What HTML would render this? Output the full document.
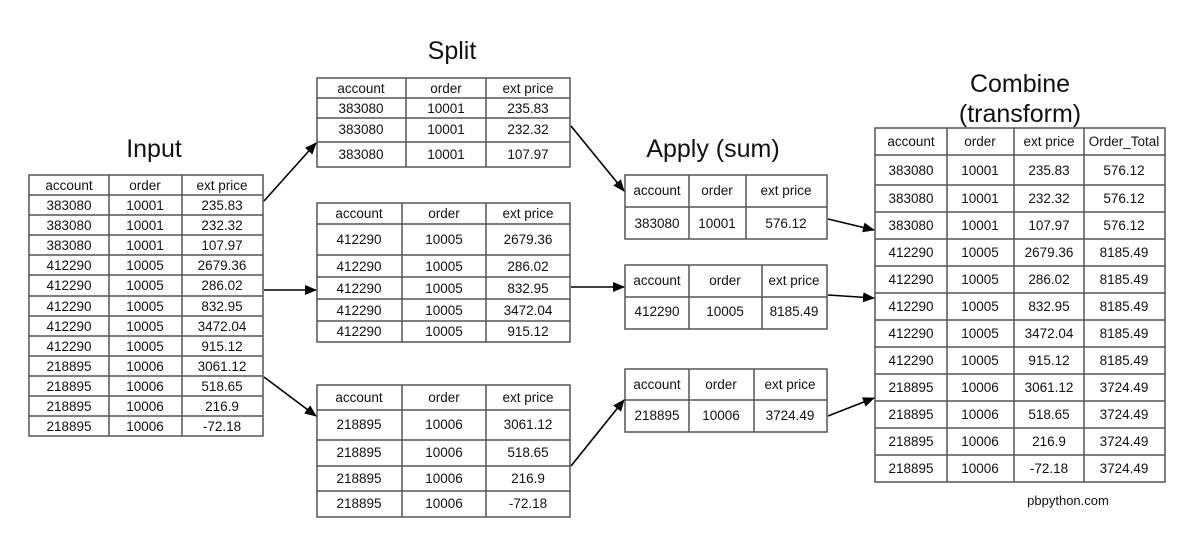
<!DOCTYPE html>
<html><head><meta charset="utf-8"><style>
html,body{margin:0;padding:0;background:#fff;}
svg{display:block;}
text{font-family:"Liberation Sans",sans-serif;fill:#111;}
.c{font-size:13.5px;text-anchor:middle;}
.t{font-size:25px;text-anchor:middle;}
.g{stroke:#555;stroke-width:1.5;fill:none;}
.a{stroke:#000;stroke-width:1.6;fill:none;}
</style></head><body>
<svg width="1195" height="558" viewBox="0 0 1195 558" xmlns="http://www.w3.org/2000/svg">
<defs><marker id="ar" markerWidth="12" markerHeight="10" refX="11" refY="5" orient="auto" markerUnits="userSpaceOnUse"><path d="M0,0 L12,5 L0,10 z" fill="#000"/></marker></defs>

<text class="t" x="154" y="157">Input</text>
<text class="t" x="452" y="59">Split</text>
<text class="t" x="713" y="157">Apply (sum)</text>
<text class="t" x="1020" y="92">Combine</text>
<text class="t" x="1020" y="122">(transform)</text>
<text x="1068" y="505" style="font-size:13px;text-anchor:middle">pbpython.com</text>

<g class="g">
<rect x="29" y="175" width="234" height="261"/>
<path d="M109,175V436M182,175V436"/>
<path d="M29,195H263M29,215H263M29,235H263M29,255H263M29,275H263M29,296H263M29,316H263M29,336H263M29,356H263M29,376H263M29,396H263M29,416H263"/>
</g>
<g class="c">
<text x="69" y="190">account</text><text x="145" y="190">order</text><text x="222" y="190">ext price</text>
<text x="69" y="210">383080</text><text x="145" y="210">10001</text><text x="222" y="210">235.83</text>
<text x="69" y="230">383080</text><text x="145" y="230">10001</text><text x="222" y="230">232.32</text>
<text x="69" y="250">383080</text><text x="145" y="250">10001</text><text x="222" y="250">107.97</text>
<text x="69" y="270">412290</text><text x="145" y="270">10005</text><text x="222" y="270">2679.36</text>
<text x="69" y="290">412290</text><text x="145" y="290">10005</text><text x="222" y="290">286.02</text>
<text x="69" y="311">412290</text><text x="145" y="311">10005</text><text x="222" y="311">832.95</text>
<text x="69" y="331">412290</text><text x="145" y="331">10005</text><text x="222" y="331">3472.04</text>
<text x="69" y="351">412290</text><text x="145" y="351">10005</text><text x="222" y="351">915.12</text>
<text x="69" y="371">218895</text><text x="145" y="371">10006</text><text x="222" y="371">3061.12</text>
<text x="69" y="391">218895</text><text x="145" y="391">10006</text><text x="222" y="391">518.65</text>
<text x="69" y="411">218895</text><text x="145" y="411">10006</text><text x="222" y="411">216.9</text>
<text x="69" y="431">218895</text><text x="145" y="431">10006</text><text x="222" y="431">-72.18</text>
</g>

<g class="g">
<rect x="317" y="78" width="253" height="89"/>
<path d="M406,78V167M486,78V167M317,98H570M317,118H570M317,142H570"/>
</g>
<g class="c">
<text x="361" y="93">account</text><text x="446" y="93">order</text><text x="528" y="93">ext price</text>
<text x="361" y="113">383080</text><text x="446" y="113">10001</text><text x="528" y="113">235.83</text>
<text x="361" y="134">383080</text><text x="446" y="134">10001</text><text x="528" y="134">232.32</text>
<text x="361" y="159">383080</text><text x="446" y="159">10001</text><text x="528" y="159">107.97</text>
</g>

<g class="g">
<rect x="317" y="203" width="253" height="139"/>
<path d="M402,203V342M486,203V342M317,224H570M317,255H570M317,277H570M317,299H570M317,321H570"/>
</g>
<g class="c">
<text x="359" y="218">account</text><text x="444" y="218">order</text><text x="528" y="218">ext price</text>
<text x="359" y="244">412290</text><text x="444" y="244">10005</text><text x="528" y="244">2679.36</text>
<text x="359" y="271">412290</text><text x="444" y="271">10005</text><text x="528" y="271">286.02</text>
<text x="359" y="293">412290</text><text x="444" y="293">10005</text><text x="528" y="293">832.95</text>
<text x="359" y="315">412290</text><text x="444" y="315">10005</text><text x="528" y="315">3472.04</text>
<text x="359" y="336">412290</text><text x="444" y="336">10005</text><text x="528" y="336">915.12</text>
</g>

<g class="g">
<rect x="317" y="385" width="253" height="132"/>
<path d="M402,385V517M486,385V517M317,410H570M317,440H570M317,466H570M317,491H570"/>
</g>
<g class="c">
<text x="359" y="402">account</text><text x="444" y="402">order</text><text x="528" y="402">ext price</text>
<text x="359" y="429">218895</text><text x="444" y="429">10006</text><text x="528" y="429">3061.12</text>
<text x="359" y="457">218895</text><text x="444" y="457">10006</text><text x="528" y="457">518.65</text>
<text x="359" y="483">218895</text><text x="444" y="483">10006</text><text x="528" y="483">216.9</text>
<text x="359" y="508">218895</text><text x="444" y="508">10006</text><text x="528" y="508">-72.18</text>
</g>

<g class="g">
<rect x="625" y="175" width="202" height="64"/>
<path d="M689,175V239M746,175V239M625,207H827"/>
</g>
<g class="c">
<text x="657" y="195">account</text><text x="717" y="195">order</text><text x="786" y="195">ext price</text>
<text x="657" y="228">383080</text><text x="717" y="228">10001</text><text x="786" y="228">576.12</text>
</g>

<g class="g">
<rect x="625" y="265" width="202" height="64"/>
<path d="M689,265V329M762,265V329M625,297H827"/>
</g>
<g class="c">
<text x="657" y="285">account</text><text x="725" y="285">order</text><text x="794" y="285">ext price</text>
<text x="657" y="316">412290</text><text x="725" y="316">10005</text><text x="794" y="316">8185.49</text>
</g>

<g class="g">
<rect x="625" y="369" width="202" height="63"/>
<path d="M689,369V432M754,369V432M625,400H827"/>
</g>
<g class="c">
<text x="657" y="389">account</text><text x="721" y="389">order</text><text x="790" y="389">ext price</text>
<text x="657" y="420">218895</text><text x="721" y="420">10006</text><text x="790" y="420">3724.49</text>
</g>

<g class="g">
<rect x="875" y="128" width="290" height="354"/>
<path d="M947,128V482M1014,128V482M1084,128V482"/>
<path d="M875,155H1165M875,185H1165M875,212H1165M875,239H1165M875,266H1165M875,293H1165M875,320H1165M875,347H1165M875,374H1165M875,401H1165M875,428H1165M875,455H1165"/>
</g>
<g class="c">
<text x="911" y="146">account</text><text x="980" y="146">order</text><text x="1049" y="146">ext price</text><text x="1124" y="146">Order_Total</text>
<text x="911" y="175">383080</text><text x="980" y="175">10001</text><text x="1049" y="175">235.83</text><text x="1124" y="175">576.12</text>
<text x="911" y="203">383080</text><text x="980" y="203">10001</text><text x="1049" y="203">232.32</text><text x="1124" y="203">576.12</text>
<text x="911" y="230">383080</text><text x="980" y="230">10001</text><text x="1049" y="230">107.97</text><text x="1124" y="230">576.12</text>
<text x="911" y="257">412290</text><text x="980" y="257">10005</text><text x="1049" y="257">2679.36</text><text x="1124" y="257">8185.49</text>
<text x="911" y="284">412290</text><text x="980" y="284">10005</text><text x="1049" y="284">286.02</text><text x="1124" y="284">8185.49</text>
<text x="911" y="311">412290</text><text x="980" y="311">10005</text><text x="1049" y="311">832.95</text><text x="1124" y="311">8185.49</text>
<text x="911" y="338">412290</text><text x="980" y="338">10005</text><text x="1049" y="338">3472.04</text><text x="1124" y="338">8185.49</text>
<text x="911" y="365">412290</text><text x="980" y="365">10005</text><text x="1049" y="365">915.12</text><text x="1124" y="365">8185.49</text>
<text x="911" y="392">218895</text><text x="980" y="392">10006</text><text x="1049" y="392">3061.12</text><text x="1124" y="392">3724.49</text>
<text x="911" y="419">218895</text><text x="980" y="419">10006</text><text x="1049" y="419">518.65</text><text x="1124" y="419">3724.49</text>
<text x="911" y="446">218895</text><text x="980" y="446">10006</text><text x="1049" y="446">216.9</text><text x="1124" y="446">3724.49</text>
<text x="911" y="473">218895</text><text x="980" y="473">10006</text><text x="1049" y="473">-72.18</text><text x="1124" y="473">3724.49</text>
</g>

<g class="a" marker-end="url(#ar)">
<path d="M264,201L316,143"/>
<path d="M264,290L316,290"/>
<path d="M264,377L316,416"/>
<path d="M571,126L624,191"/>
<path d="M571,287L624,287"/>
<path d="M571,466L624,400"/>
<path d="M828,219L874,230"/>
<path d="M828,295L874,298"/>
<path d="M828,416L874,398"/>
</g>
</svg>
</body></html>
